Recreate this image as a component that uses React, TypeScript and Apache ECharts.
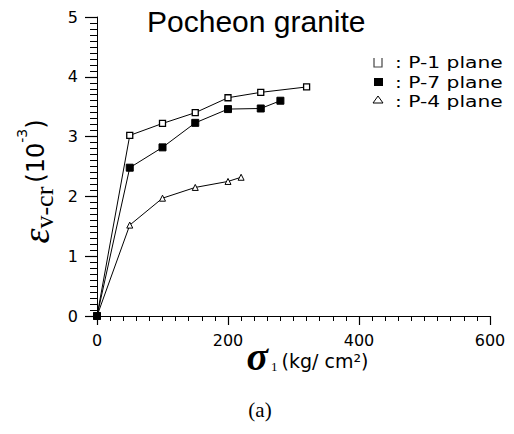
import React, { useEffect, useRef } from "react";
import * as echarts from "echarts";

const xTicks = [0, 200, 400, 600];
const yTicks = [0, 1, 2, 3, 4, 5];

const p1Stress = [0, 50, 100, 150, 200, 250, 320];
const p1Strain = [0, 3.02, 3.22, 3.4, 3.65, 3.74, 3.83];

const p7Stress = [0, 50, 100, 150, 200, 250, 280];
const p7Strain = [0, 2.48, 2.82, 3.23, 3.46, 3.47, 3.6];

const p4Stress = [0, 50, 100, 150, 200, 220];
const p4Strain = [0, 1.52, 1.97, 2.15, 2.25, 2.32];

const seriesNames = ["P-1 plane", "P-7 plane", "P-4 plane"];
const titleText = "Pocheon granite";
const panelLabel = "(a)";

const pairs = (xs: number[], ys: number[]) => xs.map((x, i) => [x, ys[i]]);

export default function App() {
  const ref = useRef<HTMLDivElement>(null);
  useEffect(() => {
    if (!ref.current) return;
    const chart = echarts.init(ref.current, null, { renderer: "svg" });
    const black = "#000";
    const tickFont = { fontFamily: "DejaVu Sans", fontSize: 16, color: black };
    chart.setOption({
      animation: false,
      backgroundColor: "#fff",
      title: {
        text: titleText,
        left: 142,
        top: 1,
        textStyle: { fontFamily: "Liberation Sans", fontSize: 30, fontWeight: "normal", color: black },
      },
      grid: { left: 97, right: 24, top: 17, bottom: 118, containLabel: false },
      xAxis: {
        type: "value",
        position: "bottom",
        min: xTicks[0],
        max: xTicks[xTicks.length - 1],
        interval: xTicks[1] - xTicks[0],
        axisLine: { show: true, onZero: false, lineStyle: { color: black, width: 1 } },
        axisTick: { show: true, inside: false, length: 9, lineStyle: { color: black, width: 1.2 } },
        minorTick: { show: true, splitNumber: 10, length: 5, lineStyle: { color: black, width: 1 } },
        splitLine: { show: false },
        axisLabel: { ...tickFont, margin: 16 },
        name: "{s|σ}{sub|1}{u|(kg/ cm²)}",
        nameLocation: "middle",
        nameGap: 20,
        nameMoveOverlap: false,
        nameTextStyle: {
          rich: {
            s: { fontFamily: "Liberation Serif", fontStyle: "italic", fontWeight: "bold", fontSize: 40, lineHeight: 40, color: black, padding: [0, 0, 0, 28] },
            sub: { fontFamily: "Liberation Serif", fontSize: 13, color: black, verticalAlign: "bottom", padding: [0, 4, 3, 3] },
            u: { fontFamily: "DejaVu Sans", fontSize: 19, color: black, verticalAlign: "bottom", padding: [0, 0, 6, 0] },
          },
        },
      },
      yAxis: {
        type: "value",
        position: "left",
        min: yTicks[0],
        max: yTicks[yTicks.length - 1],
        interval: yTicks[1] - yTicks[0],
        axisLine: { show: true, onZero: false, lineStyle: { color: black, width: 1 } },
        axisTick: { show: true, inside: false, length: 12, lineStyle: { color: black, width: 1.2 } },
        minorTick: { show: true, splitNumber: 10, length: 7, lineStyle: { color: black, width: 1 } },
        splitLine: { show: false },
        axisLabel: { ...tickFont, margin: 19 },
        name: "{e|ε}{s|v-cr}{p|(10}{sup|-3}{p|)}",
        nameLocation: "middle",
        nameRotate: 90,
        nameGap: 40,
        nameMoveOverlap: false,
        nameTextStyle: {
          padding: [0, 30, 0, 0],
          rich: {
            e: { fontFamily: "Liberation Serif", fontStyle: "italic", fontSize: 38, color: black },
            s: { fontFamily: "Liberation Serif", fontSize: 26, color: black, verticalAlign: "bottom", padding: [16, 4, 0, 0] },
            p: { fontFamily: "DejaVu Sans", fontSize: 24, color: black },
            sup: { fontFamily: "DejaVu Sans", fontSize: 14, color: black, verticalAlign: "top", padding: [0, 0, 12, 0] },
          },
        },
      },
      series: [
        {
          name: seriesNames[0],
          type: "line",
          data: pairs(p1Stress, p1Strain),
          symbol: "rect",
          symbolSize: 6,
          lineStyle: { color: black, width: 1 },
          itemStyle: { color: "#fff", borderColor: black, borderWidth: 1.3 },
          z: 3,
        },
        {
          name: seriesNames[1],
          type: "line",
          data: pairs(p7Stress, p7Strain),
          symbol: "rect",
          symbolSize: 7,
          lineStyle: { color: black, width: 1 },
          itemStyle: { color: black, borderColor: black, borderWidth: 1 },
          z: 4,
        },
        {
          name: seriesNames[2],
          type: "line",
          data: pairs(p4Stress, p4Strain),
          symbol: "triangle",
          symbolSize: 6,
          lineStyle: { color: black, width: 1 },
          itemStyle: { color: "#fff", borderColor: black, borderWidth: 1 },
          z: 2,
        },
      ],
      graphic: [
        {
          type: "polyline",
          shape: { points: [[374, 58], [374, 67], [382, 67], [382, 58]] },
          style: { stroke: "#444", lineWidth: 1.2, fill: "none" },
        },
        { type: "rect", shape: { x: 374, y: 78, width: 9, height: 8 }, style: { fill: black } },
        {
          type: "polygon",
          shape: { points: [[373, 103], [378, 96], [383, 103]] },
          style: { fill: "#fff", stroke: black, lineWidth: 1 },
        },
        ...seriesNames.map((n, i) => ({
          type: "text",
          x: 395,
          y: 63 + i * 19.5,
          scaleX: 1.35,
          style: {
            text: ": " + n,
            fontFamily: "DejaVu Sans",
            fontSize: 15,
            fontWeight: 500,
            fill: black,
            verticalAlign: "middle",
          },
        })),
        {
          type: "text",
          x: 260,
          y: 410,
          style: {
            text: panelLabel,
            fontFamily: "Liberation Serif",
            fontSize: 21,
            fill: black,
            align: "center",
            verticalAlign: "middle",
          },
        },
      ],
    });
    return () => chart.dispose();
  }, []);
  return <div ref={ref} style={{ position: "fixed", left: 0, top: 0, width: 514, height: 434 }} />;
}
